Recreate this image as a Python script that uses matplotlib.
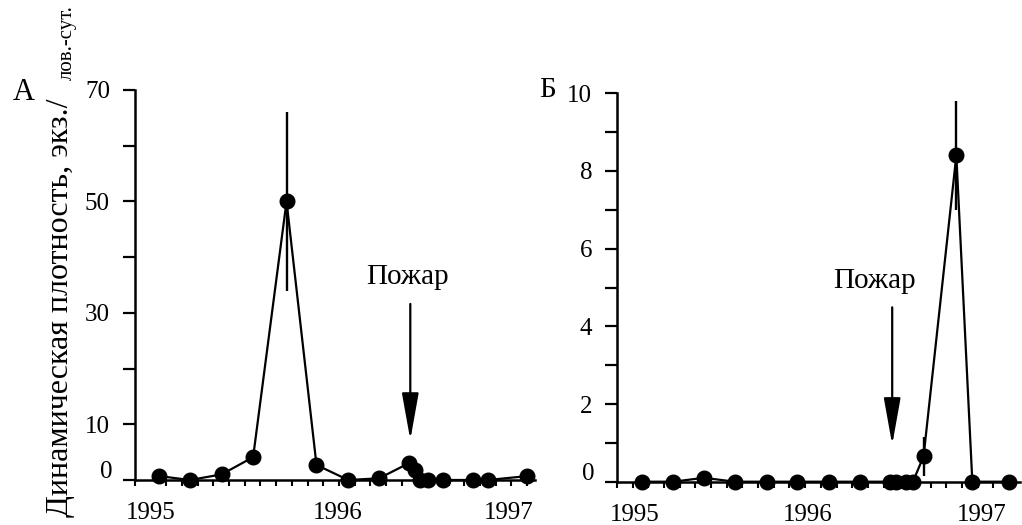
import numpy as np
import matplotlib
matplotlib.use("Agg")
import matplotlib.pyplot as plt

plt.rcParams['font.family'] = ['Liberation Serif', 'DejaVu Serif']

# Данные (x - месяцы от начала оси)
months_a = [1.55, 3.5, 5.52, 7.53, 9.66, 11.57, 13.59, 15.56, 17.45, 17.83, 18.15, 18.68, 19.64, 21.55, 22.5, 25.0]
dens_a = [0.7, 0.0, 1.0, 4.1, 50.0, 2.7, 0.0, 0.3, 3.0, 1.8, 0.0, 0.0, 0.0, 0.0, 0.0, 0.7]
err_a = [0, 0, 0, 0, 16.0, 0, 0, 0, 0, 0, 0, 0, 0, 0, 0, 0]

months_b = [1.57, 3.59, 5.54, 7.52, 9.54, 11.48, 13.52, 15.48, 17.39, 17.82, 18.45, 18.87, 19.55, 21.64, 22.66, 25.03]
dens_b = [0.0, 0.0, 0.1, 0.0, 0.0, 0.0, 0.0, 0.0, 0.0, 0.0, 0.0, 0.0, 0.65, 8.4, 0.0, 0.0]
err_b = [0, 0, 0, 0, 0, 0, 0, 0, 0, 0, 0, 0, 0.5, 1.4, 0, 0]

year_labels = ['1995', '1996', '1997']
year_pos_a = [1.0, 12.9, 23.8]
year_pos_b = [1.15, 12.17, 23.25]

yticks_a = [0, 10, 20, 30, 40, 50, 60, 70]
ylabels_a = ['', '10', '', '30', '', '50', '', '70']
yticks_b = [0, 1, 2, 3, 4, 5, 6, 7, 8, 9, 10]
ylabels_b = ['', '', '2', '', '4', '', '6', '', '8', '', '10']

fire_month = 17.55

fig = plt.figure(figsize=(10.22, 5.25), dpi=100)
ax_a = fig.add_axes([135 / 1022, 1 - 480 / 525, 400 / 1022, 390 / 525])
ax_b = fig.add_axes([617 / 1022, 1 - 481.7 / 525, 403 / 1022, 388.4 / 525])


def style_panel(ax, months, dens, err, yticks, ylabels, ypos, xmax, ymax):
    ax.errorbar(months, dens, yerr=err, fmt='-o', color='black', ms=10.5, lw=1.6,
                elinewidth=1.7, capsize=0, clip_on=False, zorder=3)
    ax.set_xlim(0, xmax)
    ax.set_ylim(0, ymax)
    ax.spines['top'].set_visible(False)
    ax.spines['right'].set_visible(False)
    ax.spines['left'].set_linewidth(1.8)
    ax.spines['bottom'].set_linewidth(1.8)
    ax.set_yticks(yticks)
    ax.set_yticklabels(ylabels)
    ax.tick_params(axis='y', direction='out', length=9, width=1.6, pad=9, labelsize=18)
    ax.set_xticks(ypos)
    ax.set_xticklabels(year_labels)
    ax.set_xticks(np.arange(0, int(xmax) + 1), minor=True)
    ax.tick_params(axis='x', which='major', length=0, pad=16, labelsize=18)
    ax.tick_params(axis='x', which='minor', direction='out', length=4, width=1.5)
    ax.annotate('0', xy=(0, 0), xycoords=('axes fraction', 'data'), xytext=(-16, -2.5),
                textcoords='offset points', ha='right', va='bottom', fontsize=18)


style_panel(ax_a, months_a, dens_a, err_a, yticks_a, ylabels_a, year_pos_a, 25.5, 70)
style_panel(ax_b, months_b, dens_b, err_b, yticks_b, ylabels_b, year_pos_b, 25.7, 10)

arrow = dict(arrowstyle='-|>,head_length=1.45,head_width=0.26', mutation_scale=20,
             lw=1.6, color='black', shrinkA=0, shrinkB=0)
ax_a.annotate('', xy=(fire_month, 7.2), xytext=(fire_month, 31.6), arrowprops=arrow)
ax_a.text(17.4, 36.5, 'Пожар', ha='center', va='center', fontsize=21)
ax_b.annotate('', xy=(fire_month, 0.95), xytext=(fire_month, 4.49), arrowprops=arrow)
ax_b.text(16.43, 5.17, 'Пожар', ha='center', va='center', fontsize=21)

fig.text(24 / 1022, 1 - 92 / 525, 'А', ha='center', va='center', fontsize=22)
fig.text(548 / 1022, 1 - 90 / 525, 'Б', ha='center', va='center', fontsize=21)

fig.text(61 / 1022, 8 / 525, 'Динамическая плотность, экз./', rotation=90,
         ha='center', va='bottom', fontsize=23)
fig.text(67 / 1022, 1 - 5 / 525, 'лов.-сут.', rotation=90,
         ha='center', va='top', fontsize=15)

fig.savefig('out.png', dpi=100)
